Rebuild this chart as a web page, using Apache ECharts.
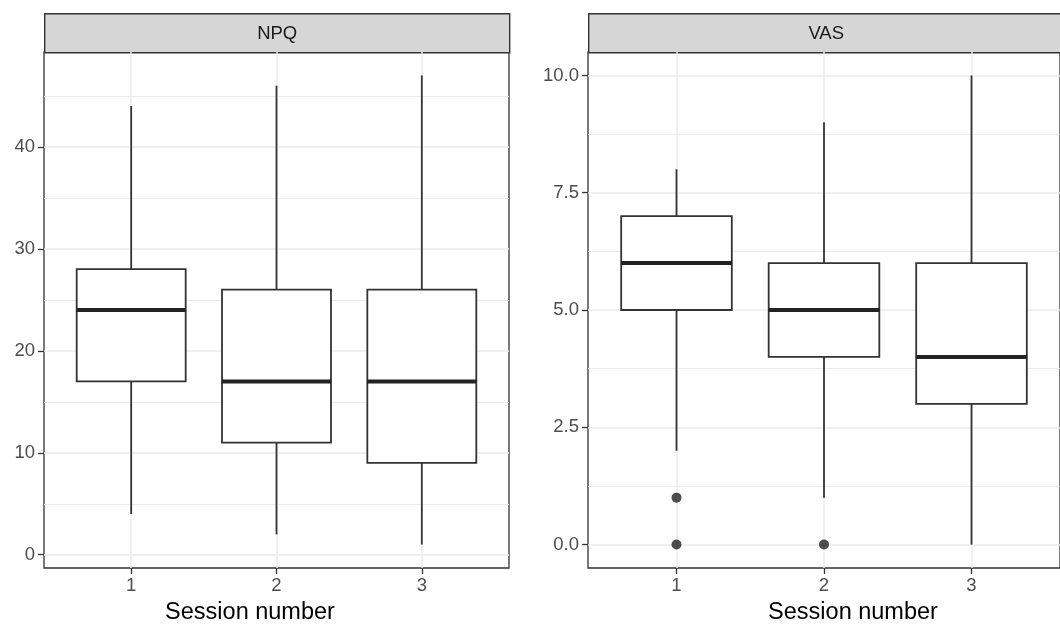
<!DOCTYPE html>
<html>
<head>
<meta charset="utf-8">
<script src="https://cdn.jsdelivr.net/npm/echarts@6/dist/echarts.min.js"></script>
<style>
  html, body { margin: 0; padding: 0; background: #fff; }
  #main { width: 1060px; height: 626px; }
</style>
</head>
<body>
<div id="main"></div>
<script>
var dom = document.getElementById("main");
var chart = echarts.init(dom);

// session numbers on the x axis
var sessions = [1, 2, 3];

// boxplot stats per session: [lower whisker, Q1, median, Q3, upper whisker]
var npqStats = [
  [4, 17, 24, 28, 44],
  [2, 11, 17, 26, 46],
  [1, 9, 17, 26, 47]
];
var vasStats = [
  [2, 5, 6, 7, 8],
  [1, 4, 5, 6, 9],
  [0, 3, 4, 6, 10]
];
// outliers: [session, value]
var npqOutliers = [];
var vasOutliers = [[1, 1], [1, 0], [2, 0]];

var npqTicks = [0, 10, 20, 30, 40];
var npqMinor = [5, 15, 25, 35, 45];
var vasTicks = [0, 2.5, 5, 7.5, 10];
var vasMinor = [1.25, 3.75, 6.25, 8.75];

var panelTitles = ["NPQ", "VAS"];
var xTitle = "Session number";

var FONT = "Liberation Sans, Arial, sans-serif";
var BOX_W = 0.75;
var INK = "#333333";

function toRows(stats) {
  return stats.map(function (s, i) {
    return [sessions[i]].concat(s);
  });
}

function renderBox(params, api) {
  var x = api.value(0);
  var lo = api.coord([x, api.value(1)]);
  var q1 = api.coord([x, api.value(2)]);
  var md = api.coord([x, api.value(3)]);
  var q3 = api.coord([x, api.value(4)]);
  var hi = api.coord([x, api.value(5)]);
  var half = api.size([BOX_W, 0])[0] / 2;
  var line = { stroke: INK, lineWidth: 1.8 };
  return {
    type: "group",
    children: [
      { type: "line", shape: { x1: hi[0], y1: hi[1], x2: q3[0], y2: q3[1] }, style: line },
      { type: "line", shape: { x1: q1[0], y1: q1[1], x2: lo[0], y2: lo[1] }, style: line },
      {
        type: "rect",
        shape: { x: q3[0] - half, y: q3[1], width: half * 2, height: q1[1] - q3[1] },
        style: { fill: "#fff", stroke: INK, lineWidth: 1.8 }
      },
      {
        type: "line",
        shape: { x1: md[0] - half, y1: md[1], x2: md[0] + half, y2: md[1] },
        style: { stroke: "#222", lineWidth: 4 }
      }
    ]
  };
}

var grids = [
  { left: 44, top: 52, width: 465, height: 516 },
  { left: 588, top: 52, width: 475, height: 516 }
];
// where the two axis titles sit (centre x)
var titleX = [250, 853];

function xAxisFor(i) {
  return {
    type: "value",
    gridIndex: i,
    min: 0.4,
    max: 3.6,
    axisLine: { show: false, onZero: false },
    axisTick: { show: true, length: 6, customValues: sessions, lineStyle: { color: INK, width: 1.3 } },
    axisLabel: {
      customValues: sessions,
      margin: 8,
      fontFamily: FONT,
      fontSize: 18.5,
      color: "#4d4d4d"
    },
    splitLine: { show: true, lineStyle: { color: "#ebebeb", width: 1.5 } }
  };
}

function yAxisFor(i, ticks, min, max, fmt) {
  return {
    type: "value",
    gridIndex: i,
    min: min,
    max: max,
    axisLine: { show: false, onZero: false },
    axisTick: { show: true, length: 6, customValues: ticks, lineStyle: { color: INK, width: 1.3 } },
    axisLabel: {
      customValues: ticks,
      margin: 9,
      fontFamily: FONT,
      fontSize: 18.5,
      color: "#4d4d4d",
      formatter: fmt
    },
    splitLine: { show: true, lineStyle: { color: "#ebebeb", width: 1.5 } }
  };
}

function minorAxisFor(i, ticks, min, max) {
  return {
    type: "value",
    gridIndex: i,
    min: min,
    max: max,
    axisLine: { show: false, onZero: false },
    axisTick: { show: false, customValues: ticks },
    axisLabel: { show: false, customValues: ticks },
    splitLine: { show: true, lineStyle: { color: "#ebebeb", width: 1 } }
  };
}

function strip(i, text) {
  var g = grids[i];
  return {
    type: "group",
    left: g.left,
    top: 13,
    children: [
      {
        type: "rect",
        shape: { x: 0, y: 0, width: g.width, height: 39 },
        style: { fill: "#d6d6d6", stroke: INK, lineWidth: 1.4 }
      },
      {
        type: "text",
        x: g.width / 2,
        y: 20,
        style: {
          text: text,
          fontFamily: FONT,
          fontSize: 18.5,
          fill: "#1a1a1a",
          align: "center",
          verticalAlign: "middle"
        }
      }
    ]
  };
}

function axisTitle(i) {
  return {
    type: "text",
    x: titleX[i],
    y: 613,
    style: {
      text: xTitle,
      fontFamily: FONT,
      fontSize: 23.5,
      fill: "#000",
      align: "center",
      verticalAlign: "middle"
    }
  };
}

chart.setOption({
  animation: false,
  grid: grids.map(function (g) {
    return Object.assign({ show: true, borderColor: INK, borderWidth: 1.3, backgroundColor: "#fff" }, g);
  }),
  xAxis: [xAxisFor(0), xAxisFor(1)],
  yAxis: [
    yAxisFor(0, npqTicks, -1.3, 49.3, function (v) { return String(v); }),
    yAxisFor(1, vasTicks, -0.5, 10.5, function (v) { return v.toFixed(1); }),
    minorAxisFor(0, npqMinor, -1.3, 49.3),
    minorAxisFor(1, vasMinor, -0.5, 10.5)
  ],
  graphic: [strip(0, panelTitles[0]), strip(1, panelTitles[1]), axisTitle(0), axisTitle(1)],
  series: [
    {
      type: "custom",
      xAxisIndex: 0,
      yAxisIndex: 0,
      renderItem: renderBox,
      data: toRows(npqStats),
      z: 5
    },
    {
      type: "custom",
      xAxisIndex: 1,
      yAxisIndex: 1,
      renderItem: renderBox,
      data: toRows(vasStats),
      z: 5
    },
    {
      type: "scatter",
      xAxisIndex: 0,
      yAxisIndex: 0,
      data: npqOutliers,
      symbolSize: 10,
      itemStyle: { color: "#222" },
      z: 6
    },
    {
      type: "scatter",
      xAxisIndex: 1,
      yAxisIndex: 1,
      data: vasOutliers,
      symbolSize: 10,
      itemStyle: { color: "#222" },
      z: 6
    }
  ]
});
</script>
</body>
</html>
